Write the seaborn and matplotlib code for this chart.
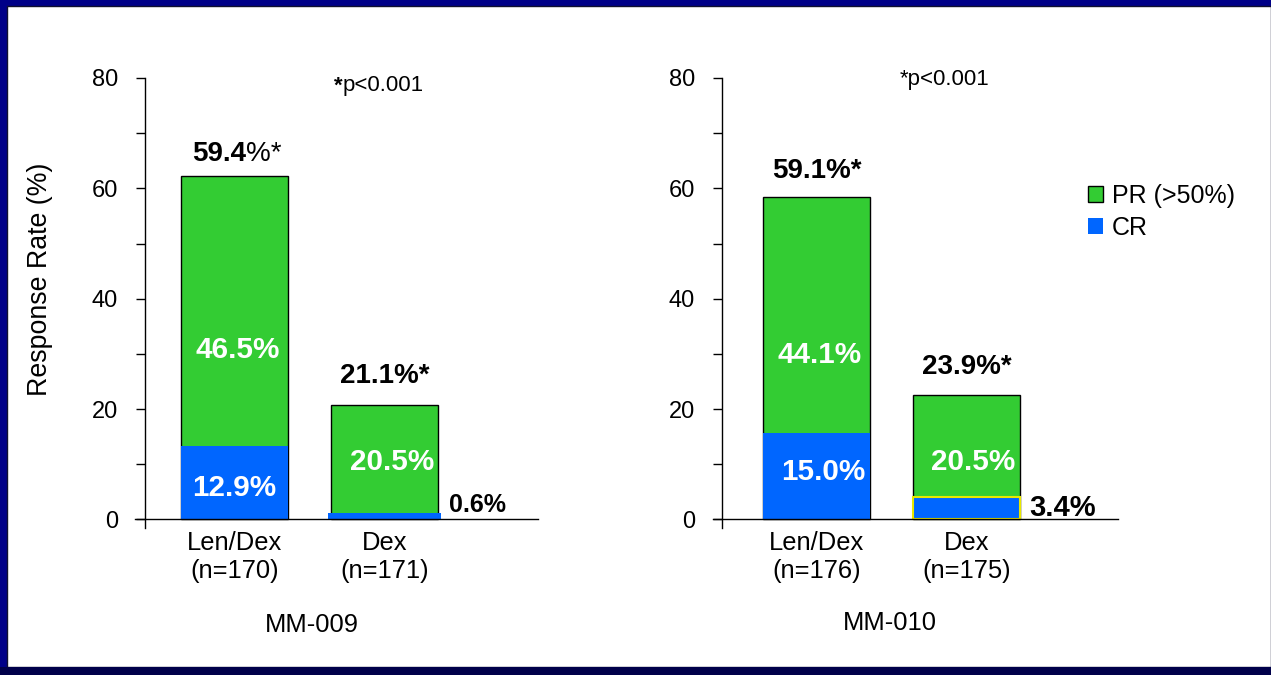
import matplotlib
matplotlib.use("Agg")
import matplotlib.pyplot as plt
import seaborn as sns
import pandas as pd
from matplotlib.patches import Patch, Rectangle

# bar heights as drawn on the slide
arms = ["Len/Dex", "Dex"]
mm009_total = [62.3, 20.8]
mm009_cr = [13.3, 1.2]
mm010_total = [58.4, 22.6]
mm010_cr = [15.6, 4.0]

# printed labels
mm009_ticks = ["Len/Dex\n(n=170)", "Dex\n(n=171)"]
mm010_ticks = ["Len/Dex\n(n=176)", "Dex\n(n=175)"]
mm009_top = [("59.4", "%*"), ("21.1%*", "")]
mm010_top = [("59.1%*", ""), ("23.9%*", "")]
mm009_pr_lbl = ["46.5%", "20.5%"]
mm010_pr_lbl = ["44.1%", "20.5%"]
mm009_cr_lbl = ["12.9%", "0.6%"]
mm010_cr_lbl = ["15.0%", "3.4%"]

GREEN = "#33CC33"
BLUE = "#0066FF"
W, H = 1271, 675

sns.set_theme(style="white")
plt.rcParams["font.family"] = ["Liberation Sans", "DejaVu Sans"]
plt.rcParams["text.color"] = "black"
plt.rcParams["axes.labelcolor"] = "black"
plt.rcParams["xtick.color"] = "black"
plt.rcParams["ytick.color"] = "black"

fig = plt.figure(figsize=(W / 100, H / 100), dpi=100)
fig.patch.set_facecolor("#000088")
# white slide area and darker bottom strip
fig.add_artist(Rectangle((7 / W, 8 / H), (W - 7) / W, (H - 14) / H,
                         transform=fig.transFigure, facecolor="white",
                         edgecolor="#101030", linewidth=1.0, zorder=0))
fig.add_artist(Rectangle((0, 0), 1, 8 / H, transform=fig.transFigure,
                         facecolor="#00004A", edgecolor="none", zorder=0))


def px_axes(x0, x1, ytop, ybot):
    return fig.add_axes([x0 / W, 1 - ybot / H, (x1 - x0) / W, (ybot - ytop) / H])


def draw_panel(ax, total, cr, ticks, xlim, spine_frac):
    df = pd.DataFrame({"arm": arms, "total": total, "cr": cr})
    sns.barplot(data=df, x="arm", y="total", color=GREEN, width=0.713,
                edgecolor="black", linewidth=1.0, saturation=1, ax=ax)
    sns.barplot(data=df, x="arm", y="cr", color=BLUE, width=0.713,
                edgecolor="none", linewidth=0, saturation=1, ax=ax)
    ax.set_xlim(*xlim)
    ax.set_ylim(-1.55, 80)
    ax.set_xlabel("")
    ax.set_ylabel("")
    for s in ["top", "right"]:
        ax.spines[s].set_visible(False)
    ax.spines["bottom"].set_position(("data", 0))
    ax.spines["left"].set_position(("axes", spine_frac))
    for s in ["bottom", "left"]:
        ax.spines[s].set_color("black")
        ax.spines[s].set_linewidth(1.0)
    ax.set_yticks([0, 20, 40, 60, 80])
    ax.set_yticks([10, 30, 50, 70], minor=True)
    ax.tick_params(axis="y", which="both", direction="out", length=6.5,
                   width=1, color="black", left=True, pad=13,
                   labelsize=17, labelcolor="black")
    ax.set_xticks([0, 1])
    ax.set_xticklabels(ticks, fontsize=18.4, linespacing=1.25)
    ax.tick_params(axis="x", length=0, pad=8, labelcolor="black")
    ax.set_facecolor("none")
    return ax.patches


# ---- MM-009 ----
ax1 = px_axes(135, 538, 78, 528)
p1 = draw_panel(ax1, mm009_total, mm009_cr, mm009_ticks, (-0.663, 2.023), 0.0248)
# blue sliver on the Dex bar is slightly wider than the bar
sliver = p1[3]
sliver.set_x(sliver.get_x() - 0.017)
sliver.set_width(sliver.get_width() + 0.034)

ax1.text(0.08, 66.2, mm009_top[0][0], ha="right", va="center", fontsize=20,
         fontweight="bold")
ax1.text(0.08, 66.2, mm009_top[0][1], ha="left", va="center", fontsize=20)
ax1.text(1.0, 26.0, mm009_top[1][0], ha="center", va="center", fontsize=20,
         fontweight="bold")
ax1.text(0.02, 30.7, mm009_pr_lbl[0], ha="center", va="center", fontsize=21.3,
         fontweight="bold", color="white")
ax1.text(0.0, 5.7, mm009_cr_lbl[0], ha="center", va="center", fontsize=21.3,
         fontweight="bold", color="white")
ax1.text(1.05, 10.4, mm009_pr_lbl[1], ha="center", va="center", fontsize=21.3,
         fontweight="bold", color="white")
ax1.text(1.62, 2.6, mm009_cr_lbl[1], ha="center", va="center", fontsize=18,
         fontweight="bold", color="black")
ax1.text(0.665, 78.6, "*", ha="left", va="center", fontsize=16, fontweight="bold")
ax1.text(0.72, 78.6, "p<0.001", ha="left", va="center", fontsize=16)

# ---- MM-010 ----
ax2 = px_axes(713, 1118, 78, 528)
p2 = draw_panel(ax2, mm010_total, mm010_cr, mm010_ticks, (-0.693, 2.01), 0.022)
p2[3].set_edgecolor("#E8E800")
p2[3].set_linewidth(1.5)

ax2.text(0.0, 63.2, mm010_top[0][0], ha="center", va="center", fontsize=20,
         fontweight="bold")
ax2.text(1.0, 27.7, mm010_top[1][0], ha="center", va="center", fontsize=20,
         fontweight="bold")
ax2.text(0.02, 29.8, mm010_pr_lbl[0], ha="center", va="center", fontsize=21.3,
         fontweight="bold", color="white")
ax2.text(0.04, 8.6, mm010_cr_lbl[0], ha="center", va="center", fontsize=21.3,
         fontweight="bold", color="white")
ax2.text(1.04, 10.4, mm010_pr_lbl[1], ha="center", va="center", fontsize=21.3,
         fontweight="bold", color="white")
ax2.text(1.64, 2.1, mm010_cr_lbl[1], ha="center", va="center", fontsize=21,
         fontweight="bold", color="black")
ax2.text(0.85, 79.7, "*p<0.001", ha="center", va="center", fontsize=16)

# titles under the panels and shared y label
fig.text(312 / W, 1 - 625 / H, "MM-009", ha="center", va="center", fontsize=18.4)
fig.text(890 / W, 1 - 623 / H, "MM-010", ha="center", va="center", fontsize=18.4)
fig.text(40 / W, 1 - 279 / H, "Response Rate (%)", rotation=90, ha="center",
         va="center", fontsize=19.3)

handles = [Patch(facecolor=GREEN, edgecolor="black", linewidth=1.0, label="PR (>50%)"),
           Patch(facecolor=BLUE, edgecolor="none", label="CR")]
fig.legend(handles=handles, loc="upper left", bbox_to_anchor=(1078 / W, 1 - 174 / H),
           frameon=False, fontsize=18, handlelength=0.6, handleheight=0.6,
           handletextpad=0.35, labelspacing=0.32, borderaxespad=0)

fig.savefig("out.png", dpi=100, facecolor=fig.get_facecolor())
